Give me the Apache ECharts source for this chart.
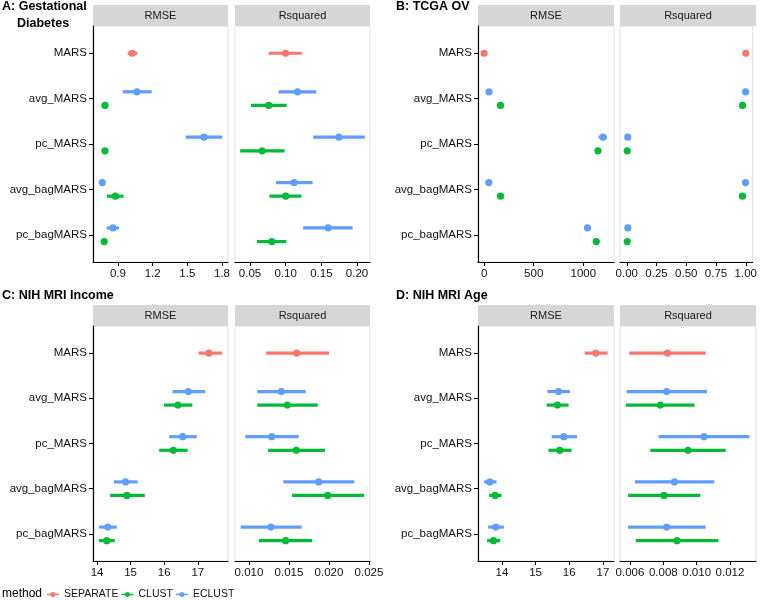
<!DOCTYPE html>
<html>
<head>
<meta charset="utf-8">
<script src="https://cdn.jsdelivr.net/npm/echarts@6/dist/echarts.min.js"></script>
<style>
  html, body { margin: 0; padding: 0; background: #fff; }
  #chart { width: 760px; height: 600px; }
</style>
</head>
<body>
<div id="chart"></div>
<script>
// categories, top to bottom
var categories = ['MARS', 'avg_MARS', 'pc_MARS', 'avg_bagMARS', 'pc_bagMARS'];
var methods = ['SEPARATE', 'CLUST', 'ECLUST'];
var colors = { SEPARATE: '#F8766D', CLUST: '#00BA38', ECLUST: '#619CFF' };

// each row: [mean, lower, upper] per category, null = no point

// A: Gestational Diabetes
var gdRmseSeparate = [[1.024, 0.984, 1.067], null, null, null, null];
var gdRmseClust = [null, [0.788, 0.776, 0.800], [0.788, 0.776, 0.800], [0.877, 0.805, 0.949], [0.781, 0.771, 0.791]];
var gdRmseEclust = [null, [1.064, 0.941, 1.192], [1.644, 1.486, 1.802], [0.764, 0.758, 0.770], [0.857, 0.802, 0.909]];
var gdRsqSeparate = [[0.100, 0.0763, 0.1227], null, null, null, null];
var gdRsqClust = [null, [0.0763, 0.0514, 0.1014], [0.067, 0.0363, 0.0986], [0.100, 0.0773, 0.1222], [0.0806, 0.0599, 0.101]];
var gdRsqEclust = [null, [0.1166, 0.090, 0.143], [0.1746, 0.1387, 0.2109], [0.1118, 0.0863, 0.1378], [0.1595, 0.1245, 0.1939]];

// B: TCGA OV
var ovRmseSeparate = [[0, -5, 5], null, null, null, null];
var ovRmseClust = [null, [165, 160, 170], [1148, 1140, 1156], [165, 160, 170], [1131, 1124, 1138]];
var ovRmseEclust = [null, [50, 45, 55], [1199, 1155, 1240], [47, 42, 52], [1043, 1036, 1050]];
var ovRsqSeparate = [[1.0, 0.998, 1.0], null, null, null, null];
var ovRsqClust = [null, [0.973, 0.970, 0.976], [0.004, 0.002, 0.006], [0.972, 0.969, 0.975], [0.004, 0.002, 0.006]];
var ovRsqEclust = [null, [0.998, 0.996, 1.0], [0.008, 0.006, 0.010], [0.997, 0.995, 0.999], [0.009, 0.007, 0.011]];

// C: NIH MRI Income
var incRmseSeparate = [[17.33, 17.03, 17.72], null, null, null, null];
var incRmseClust = [null, [16.41, 15.99, 16.84], [16.27, 15.85, 16.70], [14.89, 14.39, 15.42], [14.29, 14.06, 14.53]];
var incRmseEclust = [null, [16.72, 16.25, 17.22], [16.55, 16.15, 16.97], [14.85, 14.50, 15.21], [14.32, 14.06, 14.59]];
var incRsqSeparate = [[0.01596, 0.01213, 0.0200], null, null, null, null];
var incRsqClust = [null, [0.01479, 0.01104, 0.01859], [0.01591, 0.01238, 0.0195], [0.01984, 0.01538, 0.02441], [0.01459, 0.01125, 0.01791]];
var incRsqEclust = [null, [0.01404, 0.01104, 0.01709], [0.01284, 0.00954, 0.01621], [0.01871, 0.01429, 0.02316], [0.01275, 0.00896, 0.01659]];

// D: NIH MRI Age
var ageRmseSeparate = [[16.79, 16.46, 17.14], null, null, null, null];
var ageRmseClust = [null, [15.65, 15.33, 15.98], [15.72, 15.38, 16.07], [13.80, 13.62, 13.99], [13.75, 13.56, 13.95]];
var ageRmseEclust = [null, [15.68, 15.35, 16.02], [15.84, 15.48, 16.23], [13.64, 13.47, 13.84], [13.82, 13.59, 14.06]];
var ageRsqSeparate = [[0.00824, 0.00596, 0.01054], null, null, null, null];
var ageRsqClust = [null, [0.00782, 0.00576, 0.00988], [0.00948, 0.00722, 0.01174], [0.00804, 0.00588, 0.01022], [0.00882, 0.00634, 0.0113]];
var ageRsqEclust = [null, [0.0082, 0.0058, 0.01062], [0.01044, 0.00772, 0.01316], [0.00866, 0.0063, 0.01106], [0.0082, 0.00588, 0.01054]];

// tick labels
var gdRmseTicks = ['0.9', '1.2', '1.5', '1.8'];
var gdRsqTicks = ['0.05', '0.10', '0.15', '0.20'];
var ovRmseTicks = ['0', '500', '1000'];
var ovRsqTicks = ['0.00', '0.25', '0.50', '0.75', '1.00'];
var incRmseTicks = ['14', '15', '16', '17'];
var incRsqTicks = ['0.010', '0.015', '0.020', '0.025'];
var ageRmseTicks = ['14', '15', '16', '17'];
var ageRsqTicks = ['0.006', '0.008', '0.010', '0.012'];

var panels = [
  { title: ['A: Gestational', 'Diabetes'], tx: 2, ty: 0, left: 93, top: 26, h: 236, w: 135, gap: 7,
    rmse: [gdRmseSeparate, gdRmseClust, gdRmseEclust], rsq: [gdRsqSeparate, gdRsqClust, gdRsqEclust],
    rmseTicks: gdRmseTicks, rsqTicks: gdRsqTicks, rmseLim: [0.684, 1.852], rsqLim: [0.029, 0.2182] },
  { title: ['B: TCGA OV'], tx: 396, ty: 0, left: 478, top: 26, h: 236, w: 136, gap: 6,
    rmse: [ovRmseSeparate, ovRmseClust, ovRmseEclust], rsq: [ovRsqSeparate, ovRsqClust, ovRsqEclust],
    rmseTicks: ovRmseTicks, rsqTicks: ovRsqTicks, rmseLim: [-62, 1310], rsqLim: [-0.057, 1.057] },
  { title: ['C: NIH MRI Income'], tx: 2, ty: 289, left: 93, top: 326, h: 235, w: 135, gap: 7,
    rmse: [incRmseSeparate, incRmseClust, incRmseEclust], rsq: [incRsqSeparate, incRsqClust, incRsqEclust],
    rmseTicks: incRmseTicks, rsqTicks: incRsqTicks, rmseLim: [13.88, 17.9], rsqLim: [0.00825, 0.02513] },
  { title: ['D: NIH MRI Age'], tx: 396, ty: 289, left: 478, top: 326, h: 235, w: 136, gap: 6,
    rmse: [ageRmseSeparate, ageRmseClust, ageRmseEclust], rsq: [ageRsqSeparate, ageRsqClust, ageRsqEclust],
    rmseTicks: ageRmseTicks, rsqTicks: ageRsqTicks, rmseLim: [13.29, 17.33], rsqLim: [0.0054, 0.01356] }
];

var dodge = { SEPARATE: 0, CLUST: -0.15, ECLUST: 0.15 };
var font = '"Liberation Sans", Arial, Helvetica, sans-serif';

var grids = [], xAxes = [], yAxes = [], series = [], graphics = [];

function tickLabel(ticks) {
  return function (v) {
    for (var i = 0; i < ticks.length; i++) {
      if (Math.abs(Number(ticks[i]) - v) < 1e-9) return ticks[i];
    }
    return '';
  };
}

function renderBar(params, api) {
  var y = api.value(3);
  var a = api.coord([api.value(0), y]);
  var b = api.coord([api.value(1), y]);
  var m = api.coord([api.value(2), y]);
  var c = api.visual('color');
  return {
    type: 'group',
    children: [
      { type: 'line', shape: { x1: a[0], y1: a[1], x2: b[0], y2: b[1] }, style: { stroke: c, lineWidth: 3.2 } },
      { type: 'circle', shape: { cx: m[0], cy: m[1], r: 3.6 }, style: { fill: c } }
    ]
  };
}

panels.forEach(function (p) {
  var facets = [
    { label: 'RMSE', rows: p.rmse, ticks: p.rmseTicks, lim: p.rmseLim, left: p.left, first: true },
    { label: 'Rsquared', rows: p.rsq, ticks: p.rsqTicks, lim: p.rsqLim, left: p.left + p.w + p.gap, first: false }
  ];
  facets.forEach(function (f) {
    var gi = grids.length;
    grids.push({ left: f.left, top: p.top, width: p.w, height: p.h, show: true,
      borderColor: '#e3e3e3', borderWidth: 1, backgroundColor: 'transparent' });
    var tv = f.ticks.map(Number);
    xAxes.push({
      type: 'value', gridIndex: gi, min: f.lim[0], max: f.lim[1],
      axisLine: { show: true, onZero: false, lineStyle: { color: '#000', width: 1.2 } },
      axisTick: { show: true, length: 4, customValues: tv, lineStyle: { color: '#000' } },
      axisLabel: { customValues: tv, formatter: tickLabel(f.ticks), color: '#111', fontSize: 11.5, margin: 6, fontFamily: font },
      splitLine: { show: false }
    });
    var yv = categories.map(function (c, i) { return categories.length - i; });
    yAxes.push({
      type: 'value', gridIndex: gi, min: 0.4, max: categories.length + 0.6,
      axisLine: { show: f.first, onZero: false, lineStyle: { color: '#000', width: 1.2 } },
      axisTick: { show: f.first, length: 4, customValues: yv, lineStyle: { color: '#000' } },
      axisLabel: { show: f.first, customValues: yv, color: '#111', fontSize: 11.5, margin: 6, fontFamily: font,
        formatter: function (v) { return categories[categories.length - Math.round(v)] || ''; } },
      splitLine: { show: false }
    });
    methods.forEach(function (m, mi) {
      var data = [];
      f.rows[mi].forEach(function (r, ci) {
        if (r) data.push([r[1], r[2], r[0], categories.length - ci + dodge[m]]);
      });
      series.push({
        type: 'custom', name: m, xAxisIndex: gi, yAxisIndex: gi,
        itemStyle: { color: colors[m] },
        encode: { x: [0, 1, 2], y: 3 },
        renderItem: renderBar, data: data, clip: false
      });
    });
    // facet strip
    graphics.push({
      type: 'group', left: f.left, top: p.top - 21,
      children: [
        { type: 'rect', shape: { x: 0, y: 0, width: p.w, height: 21 }, style: { fill: '#d6d6d6' } },
        { type: 'text', x: p.w / 2, y: 10.5, style: { text: f.label, fill: '#1a1a1a', font: '11px ' + font,
          textAlign: 'center', textVerticalAlign: 'middle' } }
      ]
    });
  });
  p.title.forEach(function (t, i) {
    graphics.push({ type: 'text', left: p.tx + (i > 0 ? 15 : 0), top: p.ty + i * 17,
      style: { text: t, fill: '#000', font: 'bold 12.5px ' + font } });
  });
});

graphics.push({ type: 'text', left: 2, top: 588, style: { text: 'method', fill: '#000', font: '12px ' + font } });

var chart = echarts.init(document.getElementById('chart'));
chart.setOption({
  animation: false,
  backgroundColor: '#fff',
  grid: grids,
  xAxis: xAxes,
  yAxis: yAxes,
  series: series,
  graphic: graphics,
  legend: {
    data: methods, left: 47, top: 589, padding: 0, itemWidth: 12, itemHeight: 6, itemGap: 3,
    icon: 'path://M0,4.3 L7.2,4.3 L7.2,7.7 L0,7.7 Z M16.8,4.3 L24,4.3 L24,7.7 L16.8,7.7 Z M12,1 A5,5 0 1,1 11.99,1 Z',
    textStyle: { fontSize: 10.5, color: '#111', fontFamily: font }
  }
});
</script>
</body>
</html>
